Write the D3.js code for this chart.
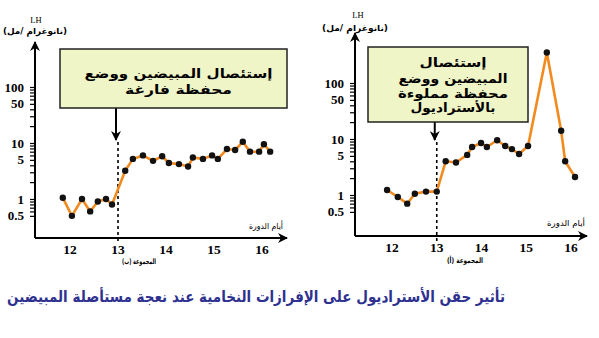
<!DOCTYPE html>
<html><head><meta charset="utf-8">
<script src="https://cdn.jsdelivr.net/npm/d3@7"></script>
<style>body{margin:0;background:#fff}svg{display:block}</style>
</head><body>
<script>
// ---- data ----
const xTickLabels = [12, 13, 14, 15, 16];
const yTickLabels = [100, 50, 10, 5, 1, 0.5];
const leftDays = [11.85,12.04,12.25,12.42,12.58,12.75,12.875,13.15,13.31,13.52,13.73,13.92,14.06,14.27,14.46,14.56,14.77,14.96,15.08,15.27,15.44,15.6,15.75,15.94,16.04,16.17];
const leftValues = [1.05,0.5,1.0,0.6,0.9,1.0,0.8,3.2,5.2,6,4.8,5.8,4.4,4.2,3.8,5.5,5.2,6,5.2,7.8,7.5,10.5,7,7,9.5,7];
const rightDays = [11.89,12.13,12.34,12.51,12.76,13.0,13.2,13.43,13.68,13.79,13.99,14.12,14.35,14.53,14.68,14.84,15.04,15.46,15.78,15.87,16.09];
const rightValues = [1.23,0.92,0.7,1.05,1.15,1.15,4.0,3.8,5.2,7.2,8.5,7.2,9.5,7.5,6.6,5.4,7.5,350,14,4.0,2.1];
const leftBoxText = ["إستئصال المبيضين ووضع", "محفظة فارغة"];
const rightBoxText = ["إستئصال", "المبيضين ووضع", "محفظة مملوءة", "بالأستراديول"];
const groupLabels = ["المجموعة (ب)", "المجموعة (أ)"];
const yUnit = "(نانوغرام /مل)";
const xAxisTitle = "أيام الدورة";
const title = "تأثير حقن الأستراديول على الإفرازات النخامية عند نعجة مستأصلة المبيضين";

const W = 599, H = 338;
const svg = d3.select("body").append("svg").attr("width", W).attr("height", H);
const defs = svg.append("defs");
defs.append("marker").attr("id","ah").attr("viewBox","0 0 10 10").attr("refX",9).attr("refY",5)
  .attr("markerWidth",5).attr("markerHeight",5).attr("orient","auto-start-reverse")
  .append("path").attr("d","M0,0L10,5L0,10L3,5z").attr("fill","#000");

const arFont = "'DejaVu Sans', sans-serif";
const serif = "'Liberation Serif', 'DejaVu Serif', serif";

function fitText(sel, width) {
  sel.attr("textLength", width).attr("lengthAdjust", "spacingAndGlyphs");
  return sel;
}

const panels = [
  { ax: 35, ay: 238, top: 42, right: 287, xr: [70, 262], yr: [199, 87],
    days: leftDays, vals: leftValues, box: [60, 49, 287, 108], boxText: leftBoxText,
    lines: [{y: 78, w: 188}, {y: 94, w: 107}], boxFs: 12.5,
    group: groupLabels[0], groupX: 139, groupY: 264, groupW: 34,
    lhX: 36, lhY: 23, unitX: 35, unitY: 34, unitW: 64,
    xtX: 266, xtY: 229, xtW: 34 },
  { ax: 355, ay: 236, top: 33, right: 587, xr: [392, 571], yr: [195, 83],
    days: rightDays, vals: rightValues, box: [368, 47, 528, 122], boxText: rightBoxText,
    lines: [{y: 67, w: 67}, {y: 83, w: 109}, {y: 98, w: 110}, {y: 112, w: 85}], boxFs: 12.5,
    group: groupLabels[1], groupX: 465, groupY: 263, groupW: 36,
    lhX: 358, lhY: 18, unitX: 355, unitY: 31, unitW: 66,
    xtX: 566, xtY: 226, xtW: 38 }
];

panels.forEach(p => {
  const g = svg.append("g");
  const x = d3.scaleLinear().domain([12, 16]).range(p.xr);
  const y = d3.scaleLog().domain([1, 100]).range(p.yr);

  // minor ticks
  const minor = [];
  for (let v = 0.5; v <= 1.0001; v += 0.1) minor.push(+v.toFixed(1));
  for (let v = 2; v <= 10; v++) minor.push(v);
  for (let v = 20; v <= 100; v += 10) minor.push(v);
  const yAxis = d3.axisLeft(y).tickValues(minor).tickSize(5).tickFormat("");
  const ya = g.append("g").attr("transform", `translate(${p.ax},0)`).call(yAxis);
  ya.select(".domain").remove();
  ya.selectAll("line").attr("stroke", "#000").attr("stroke-width", 1.2);
  // y tick labels
  g.selectAll(".yl").data(yTickLabels).join("text")
    .attr("x", p.ax - 11).attr("y", d => y(d) + 4.5).attr("text-anchor", "end")
    .attr("font-family", serif).attr("font-weight", "bold").attr("font-size", 13)
    .text(d => d);

  // axes lines
  g.append("line").attr("x1", p.ax).attr("x2", p.ax).attr("y1", p.ay).attr("y2", p.top)
    .attr("stroke", "#000").attr("stroke-width", 2).attr("marker-end", "url(#ah)");
  g.append("line").attr("x1", p.ax).attr("x2", p.right).attr("y1", p.ay).attr("y2", p.ay)
    .attr("stroke", "#000").attr("stroke-width", 2).attr("marker-end", "url(#ah)");

  // x tick labels
  g.selectAll(".xl").data(xTickLabels).join("text")
    .attr("x", d => x(d)).attr("y", p.ay + 16).attr("text-anchor", "middle")
    .attr("font-family", serif).attr("font-weight", "bold").attr("font-size", 13.5)
    .text(d => d);

  // dashed line & arrow at day 13
  g.append("line").attr("x1", x(13)).attr("x2", x(13)).attr("y1", 142).attr("y2", p.ay + 6)
    .attr("stroke", "#000").attr("stroke-width", 1.6).attr("stroke-dasharray", "3,3");
  g.append("line").attr("x1", x(13) - 2).attr("x2", x(13) - 2).attr("y1", p.box[3]).attr("y2", 140)
    .attr("stroke", "#000").attr("stroke-width", 2).attr("marker-end", "url(#ah)");

  // box
  g.append("rect").attr("x", p.box[0]).attr("y", p.box[1])
    .attr("width", p.box[2] - p.box[0]).attr("height", p.box[3] - p.box[1])
    .attr("fill", "#eff5c6").attr("stroke", "#222").attr("stroke-width", 1.5);
  p.boxText.forEach((t, i) => {
    const tx = g.append("text").attr("x", (p.box[0] + p.box[2]) / 2 + 5).attr("y", p.lines[i].y)
      .attr("text-anchor", "middle").attr("direction", "rtl")
      .attr("font-family", arFont).attr("font-weight", "bold").attr("font-size", p.boxFs).text(t);
    fitText(tx, p.lines[i].w);
  });

  // data line
  const pts = p.days.map((d, i) => [d, p.vals[i]]);
  g.append("path").datum(pts)
    .attr("d", d3.line().x(d => x(d[0])).y(d => y(d[1])))
    .attr("fill", "none").attr("stroke", "#f28a1e").attr("stroke-width", 2.6).attr("stroke-linejoin", "round");
  g.selectAll(".pt").data(pts).join("circle")
    .attr("cx", d => x(d[0])).attr("cy", d => y(d[1])).attr("r", 3.2).attr("fill", "#111");

  // axis titles
  g.append("text").attr("x", p.lhX).attr("y", p.lhY).attr("text-anchor", "middle")
    .attr("font-family", serif).attr("font-size", 8.5).text("LH");
  const u = g.append("text").attr("x", p.unitX).attr("y", p.unitY).attr("text-anchor", "middle")
    .attr("direction", "rtl").attr("font-family", arFont).attr("font-weight", "bold").attr("font-size", 8.5).text(yUnit);
  fitText(u, p.unitW);
  const xt = g.append("text").attr("x", p.xtX).attr("y", p.xtY).attr("text-anchor", "middle")
    .attr("direction", "rtl").attr("font-family", arFont).attr("font-size", 8.5).text(xAxisTitle);
  fitText(xt, p.xtW);
  const gl = g.append("text").attr("x", p.groupX).attr("y", p.groupY).attr("text-anchor", "middle")
    .attr("direction", "rtl").attr("font-family", arFont).attr("font-weight", "bold").attr("font-size", 7.5).text(p.group);
  fitText(gl, p.groupW);
});

const tt = svg.append("text").attr("x", 256).attr("y", 302).attr("text-anchor", "middle")
  .attr("direction", "rtl").attr("font-family", arFont).attr("font-weight", "bold")
  .attr("font-size", 15.5).attr("fill", "#2e3190").text(title);
fitText(tt, 498);
</script>
</body></html>
